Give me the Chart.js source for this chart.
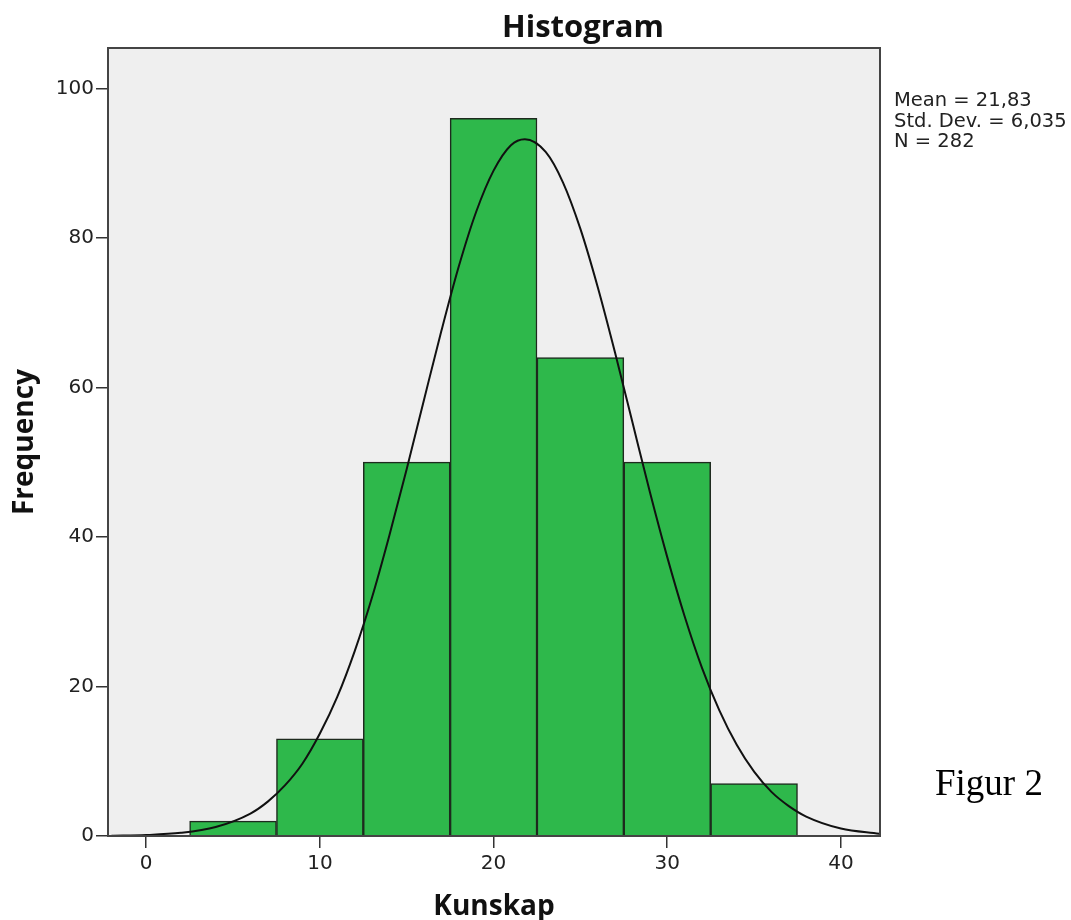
<!DOCTYPE html>
<html>
<head>
<meta charset="utf-8">
<script src="https://cdn.jsdelivr.net/npm/chart.js@4"></script>
<style>
  html, body { margin: 0; padding: 0; background: #ffffff; }
  #wrap { width: 1071px; height: 920px; position: relative; }
</style>
</head>
<body>
<div id="wrap"><canvas id="histogram"></canvas></div>
<script>
// Data

const binCenters = [5, 10, 15, 20, 25, 30, 35];
const counts = [2, 13, 50, 96, 64, 50, 7];

// normal curve
const curveX = [-2, 0, 2, 4, 6, 7, 8, 9, 10, 11, 12, 13, 14, 15, 16, 17, 18, 19, 20, 21, 21.8, 23, 24, 25, 26, 27, 28, 29, 30, 31, 32, 33, 34, 35, 36, 37, 38, 40, 42.2];
const curveY = [0.04, 0.13, 0.42, 1.2, 3.0, 4.6, 6.8, 9.7, 13.7, 18.6, 24.7, 31.9, 40.2, 49.1, 58.4, 67.6, 76.2, 83.5, 89.0, 92.4, 93.2, 91.5, 87.4, 81.2, 73.4, 64.6, 55.3, 46.0, 37.3, 29.4, 22.5, 16.8, 12.2, 8.6, 5.9, 4.0, 2.6, 1.0, 0.3];

const xTicks = [0, 10, 20, 30, 40];
const yTicks = [0, 20, 40, 60, 80, 100];

const statsLines = ['Mean = 21,83', 'Std. Dev. = 6,035', 'N = 282'];

// Tekst og ramme

const spssFrame = {
    id: 'spssFrame',
    beforeDraw(chart) {
        const { ctx, chartArea: a } = chart;
        ctx.save();
        ctx.fillStyle = '#efefef';
        ctx.fillRect(a.left, a.top, a.right - a.left, a.bottom - a.top);
        ctx.restore();
    },
    afterDatasetsDraw(chart) {
        const { ctx, chartArea: a } = chart;
        ctx.save();
        ctx.strokeStyle = '#444';
        ctx.lineWidth = 2;
        ctx.strokeRect(a.left, a.top, a.right - a.left, a.bottom - a.top);
        ctx.restore();
    },
    afterDraw(chart) {
        const { ctx, chartArea: a } = chart;
        ctx.save();
        ctx.fillStyle = '#111';

        ctx.font = 'bold 31px "Open Sans"';
        ctx.textAlign = 'center';
        ctx.textBaseline = 'alphabetic';
        ctx.fillText('Histogram', 583, 37);

        ctx.font = 'bold 28px "Open Sans"';
        ctx.fillText('Kunskap', (a.left + a.right) / 2, 915);

        ctx.save();
        ctx.translate(33, (a.top + a.bottom) / 2);
        ctx.rotate(-Math.PI / 2);
        ctx.fillText('Frequency', 0, 0);
        ctx.restore();

        ctx.font = '19.5px "DejaVu Sans"';
        ctx.textAlign = 'left';
        ctx.fillStyle = '#222';
        statsLines.forEach(function(line, i) {
            ctx.fillText(line, 894, 106 + i * 20.5);
        });

        ctx.font = '37px "Liberation Serif"';
        ctx.fillStyle = '#000';
        ctx.fillText('Figur 2', 935, 795);
        ctx.restore();
    }
};

const histChart = new Chart(
    document.getElementById('histogram'),
    {
        type: 'bar',
        data: {
            datasets: [
                {
                    type: 'line',
                    data: curveX.map((x, i) => ({ x: x, y: curveY[i] })),
                    borderColor: '#111',
                    borderWidth: 2,
                    pointRadius: 0,
                    fill: false,
                    cubicInterpolationMode: 'monotone',
                    order: 0
                },
                {
                    type: 'bar',
                    data: binCenters.map((x, i) => ({ x: x, y: counts[i] })),
                    backgroundColor: '#2eb84b',
                    borderColor: '#1e2a1e',
                    borderWidth: 1.5,
                    barPercentage: 1,
                    categoryPercentage: 1,
                    order: 1
                }
            ]
        },
        options: {
            responsive: true,
            maintainAspectRatio: false,
            animation: false,
            layout: {
                padding: { top: 48, right: 191, left: 0, bottom: 0 }
            },
            plugins: {
                legend: { display: false },
                tooltip: { enabled: false }
            },
            scales: {
                x: {
                    type: 'linear',
                    min: -2.2,
                    max: 42.25,
                    offset: false,
                    afterBuildTicks: function(scale) {
                        scale.ticks = xTicks.map(v => ({ value: v }));
                    },
                    afterFit: function(scale) {
                        scale.height = 84;
                    },
                    ticks: {
                        font: { family: 'DejaVu Sans', size: 20 },
                        color: '#222',
                        padding: 4,
                        maxRotation: 0
                    },
                    grid: {
                        offset: false,
                        drawOnChartArea: false,
                        tickLength: 12,
                        color: '#333',
                        lineWidth: 1.5
                    },
                    border: { display: false }
                },
                y: {
                    min: 0,
                    max: 105.4,
                    afterBuildTicks: function(scale) {
                        scale.ticks = yTicks.map(v => ({ value: v }));
                    },
                    afterFit: function(scale) {
                        scale.width = 108;
                    },
                    ticks: {
                        font: { family: 'DejaVu Sans', size: 20 },
                        color: '#222',
                        padding: 2
                    },
                    grid: {
                        drawOnChartArea: false,
                        tickLength: 12,
                        color: '#333',
                        lineWidth: 1.5
                    },
                    border: { display: false }
                }
            }
        },
        plugins: [spssFrame]
    }
);
</script>
</body>
</html>
